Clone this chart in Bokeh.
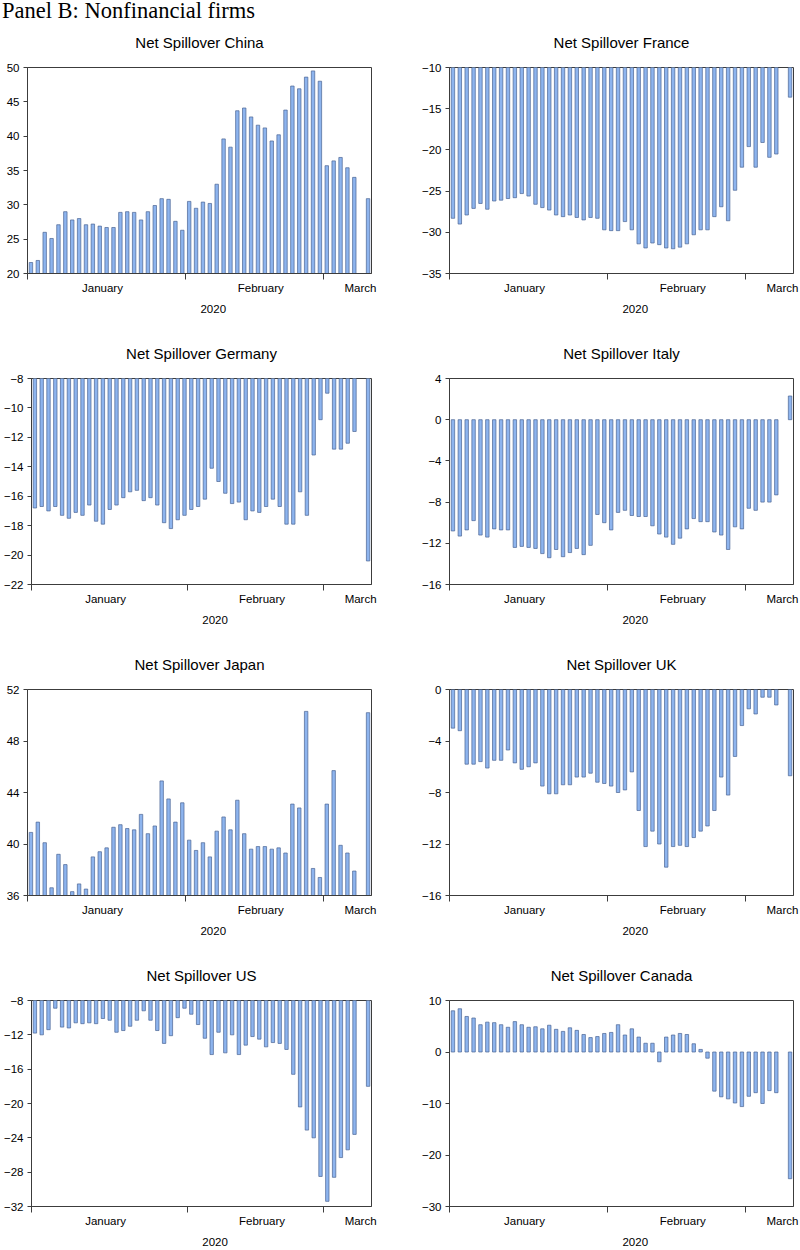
from bokeh.plotting import figure
from bokeh.models import Range1d, FixedTicker, LinearAxis, ColumnDataSource, Div
from bokeh.layouts import column, row
from bokeh.embed import file_html
from bokeh.resources import INLINE

# ---------------- data ----------------
panel_title = "Panel B: Nonfinancial firms"
months = ["January", "February", "March"]
month_days = [23, 20, 7]                 # observations per month
month_label_at = [10.9, 33.9, 48.4]      # label centres, in observation units from series start
year_label = "2020"
year_label_at = 27.0

china = [21.6, 21.9, 26.0, 25.1, 27.1, 29.0, 27.8, 28.0, 27.1, 27.2,
         26.9, 26.7, 26.7, 28.9, 29.0, 28.9, 27.8, 29.0, 29.9, 30.9,
         30.8, 27.6, 26.3, 30.5, 29.5, 30.4, 30.2, 33.0, 39.6, 38.4,
         43.7, 44.1, 42.8, 41.6, 41.2, 39.3, 40.2, 43.8, 47.3, 46.9,
         48.6, 49.5, 48.0, 35.7, 36.4, 36.9, 35.4, 34.0, None, 30.9]
france = [-28.3, -29.0, -27.9, -27.1, -26.5, -27.2, -26.2, -26.1, -25.9, -25.8,
          -25.3, -25.6, -26.6, -27.0, -27.3, -27.9, -28.1, -27.9, -28.2, -28.5,
          -28.2, -28.3, -29.7, -29.8, -29.8, -28.7, -29.7, -31.4, -31.9, -31.3,
          -31.5, -31.9, -32.0, -31.8, -31.4, -30.3, -29.7, -29.7, -28.1, -26.9,
          -28.6, -24.9, -22.1, -19.6, -22.1, -19.1, -20.9, -20.5, None, -13.6]
germany = [-16.8, -16.7, -17.0, -16.7, -17.3, -17.5, -17.1, -17.3, -16.6, -17.7,
           -17.9, -16.9, -16.6, -16.1, -15.7, -15.6, -16.3, -16.1, -16.6, -17.8,
           -18.2, -17.6, -17.3, -16.9, -16.7, -16.2, -14.1, -15.0, -15.8, -16.5,
           -16.4, -17.6, -17.0, -17.1, -16.7, -16.2, -16.7, -17.9, -17.9, -15.7,
           -17.3, -13.2, -10.8, -9.0, -12.8, -12.8, -12.4, -11.6, None, -20.4]
italy = [-10.8, -11.3, -10.7, -9.8, -11.2, -11.4, -10.6, -10.7, -10.7, -12.4,
         -12.3, -12.4, -12.5, -13.0, -13.4, -12.6, -13.3, -12.9, -12.5, -13.1,
         -12.2, -9.2, -10.0, -10.7, -9.0, -8.8, -9.3, -9.4, -9.4, -10.3,
         -11.1, -11.4, -12.1, -11.5, -10.6, -9.6, -9.9, -9.9, -10.9, -11.2,
         -12.6, -10.4, -10.6, -8.6, -8.8, -8.0, -8.0, -7.3, None, 2.3]
japan = [40.9, 41.7, 40.1, 36.6, 39.2, 38.4, 36.3, 36.9, 36.5, 39.0,
         39.4, 39.7, 41.3, 41.5, 41.2, 41.1, 42.3, 40.8, 41.4, 44.9,
         43.5, 41.7, 43.2, 40.3, 39.5, 40.1, 39.0, 41.0, 42.1, 41.1,
         43.4, 40.8, 39.6, 39.8, 39.8, 39.6, 39.7, 39.3, 43.1, 42.8,
         50.3, 38.1, 37.4, 43.1, 45.7, 39.9, 39.3, 37.9, None, 50.2]
uk = [-3.0, -3.2, -5.8, -5.8, -5.6, -6.1, -5.5, -5.5, -4.7, -5.7,
      -6.2, -6.0, -5.7, -7.5, -8.1, -8.1, -7.4, -7.4, -6.8, -6.8,
      -6.5, -7.2, -7.3, -7.5, -8.0, -7.8, -6.4, -9.4, -12.2, -11.0,
      -12.0, -13.8, -12.2, -12.1, -12.2, -11.5, -11.0, -10.6, -9.4, -6.8,
      -8.2, -5.2, -2.8, -1.5, -1.9, -0.6, -0.6, -1.2, None, -6.7]
us = [-11.8, -12.0, -11.4, -8.9, -11.1, -11.2, -10.6, -10.7, -10.6, -10.7,
      -10.1, -10.3, -11.7, -11.5, -11.0, -10.3, -9.2, -10.3, -11.5, -13.0,
      -12.1, -10.0, -8.9, -9.6, -10.8, -12.4, -14.3, -11.7, -14.1, -12.0,
      -14.3, -13.2, -12.2, -12.5, -13.4, -12.9, -13.0, -13.7, -16.6, -20.4,
      -23.1, -24.0, -28.5, -31.4, -28.6, -26.3, -25.4, -23.6, None, -18.0]
canada = [8.0, 8.4, 6.9, 6.6, 5.3, 5.8, 5.7, 5.3, 4.8, 5.9,
          5.3, 4.8, 4.9, 4.5, 5.2, 4.4, 4.0, 4.7, 4.2, 3.4,
          2.8, 3.0, 3.6, 3.8, 5.3, 3.3, 4.5, 2.9, 1.7, 1.7,
          -1.9, 2.9, 3.3, 3.6, 3.4, 1.6, 0.5, -1.2, -7.6, -8.7,
          -9.1, -9.9, -10.6, -8.6, -7.9, -10.0, -7.5, -7.9, None, -24.6]

titles = ["Net Spillover China", "Net Spillover France", "Net Spillover Germany",
          "Net Spillover Italy", "Net Spillover Japan", "Net Spillover UK",
          "Net Spillover US", "Net Spillover Canada"]
series = [china, france, germany, italy, japan, uk, us, canada]
y_limits = [(20, 50), (-35, -10), (-22, -8), (-16, 4), (36, 52), (-16, 0), (-32, -8), (-30, 10)]
y_ticks = [[20, 25, 30, 35, 40, 45, 50],
           [-35, -30, -25, -20, -15, -10],
           [-22, -20, -18, -16, -14, -12, -10, -8],
           [-16, -12, -8, -4, 0, 4],
           [36, 40, 44, 48, 52],
           [-16, -12, -8, -4, 0],
           [-32, -28, -24, -20, -16, -12, -8],
           [-30, -20, -10, 0, 10]]

# ---------------- style ----------------
FONT = "Liberation Sans"
FRAME = "#3c3c3c"
BAR_FILL = "#8db4ee"
BAR_LINE = "#4a6494"


def make_panel(title, vals, ylim, yticks, left_col, last_row):
    n = len(vals)
    idx = [i for i, v in enumerate(vals) if v is not None]
    src = ColumnDataSource(dict(x=idx, top=[vals[i] for i in idx]))
    bt, fh = 52, 206
    bb = 42 if last_row else 53
    bl, br = (27, 29) if left_col else (49, 6)
    p = figure(width=bl + 344 + br, height=bt + fh + bb,
               x_range=Range1d(-0.5, n - 0.5), y_range=Range1d(*ylim),
               output_backend="svg", toolbar_location=None,
               min_border_top=bt, min_border_bottom=bb,
               min_border_left=bl, min_border_right=br,
               border_fill_color=None)
    p.vbar(x="x", top="top", bottom=0, width=0.5, source=src,
           fill_color=BAR_FILL, line_color=BAR_LINE, line_width=0.7)
    p.grid.visible = False
    p.outline_line_color = FRAME
    p.outline_line_width = 1
    p.title.text = title
    p.title.align = "center"
    p.title.text_font = FONT
    p.title.text_font_size = "15px"
    p.title.text_font_style = "normal"
    p.title.text_color = "black"
    p.title.standoff = 33

    # y axis
    ya = p.yaxis[0]
    ya.ticker = FixedTicker(ticks=yticks)
    ya.major_tick_out = 4
    ya.major_tick_in = 0
    ya.minor_tick_line_color = None
    ya.major_label_standoff = 4
    ya.major_label_text_font = FONT
    ya.major_label_text_font_size = "11.5px"
    ya.major_label_text_color = "black"
    ya.axis_line_color = FRAME
    ya.major_tick_line_color = FRAME

    # x axis: month boundaries as ticks, month names between them
    bounds = [-0.5]
    for d in month_days[:-1]:
        bounds.append(bounds[-1] + d)
    lab_pos = [m - 0.5 for m in month_label_at]
    xa = p.xaxis[0]
    xa.ticker = FixedTicker(ticks=lab_pos, minor_ticks=bounds)
    xa.major_label_overrides = {pos: name for pos, name in zip(lab_pos, months)}
    xa.major_tick_out = 0
    xa.major_tick_in = 0
    xa.major_tick_line_color = None
    xa.minor_tick_out = 6
    xa.minor_tick_in = 0
    xa.minor_tick_line_color = FRAME
    xa.axis_line_color = FRAME
    xa.major_label_standoff = 2
    xa.major_label_text_font = FONT
    xa.major_label_text_font_size = "11.5px"
    xa.major_label_text_color = "black"

    ypos = year_label_at - 0.5
    yax = LinearAxis(ticker=FixedTicker(ticks=[ypos], minor_ticks=[]),
                     major_label_overrides={ypos: year_label},
                     axis_line_color=None, major_tick_line_color=None,
                     minor_tick_line_color=None, major_label_standoff=2,
                     major_label_text_font=FONT, major_label_text_font_size="11.5px",
                     major_label_text_color="black")
    p.add_layout(yax, "below")
    return p


figs = []
for k in range(8):
    figs.append(make_panel(titles[k], series[k], y_limits[k], y_ticks[k],
                           left_col=(k % 2 == 0), last_row=(k >= 6)))

head = Div(text='<span style="position:relative; top:-5px; left:-3px;">' + panel_title + '</span>',
           width=784, height=5,
           styles={"font-family": "'Liberation Serif', serif", "font-size": "22.5px",
                   "line-height": "22px", "color": "black", "white-space": "nowrap",
                   "overflow": "visible"})

layout = column(head,
                row(figs[0], figs[1]),
                row(figs[2], figs[3]),
                row(figs[4], figs[5]),
                row(figs[6], figs[7]))

open("out.html", "w").write(file_html(layout, INLINE))
